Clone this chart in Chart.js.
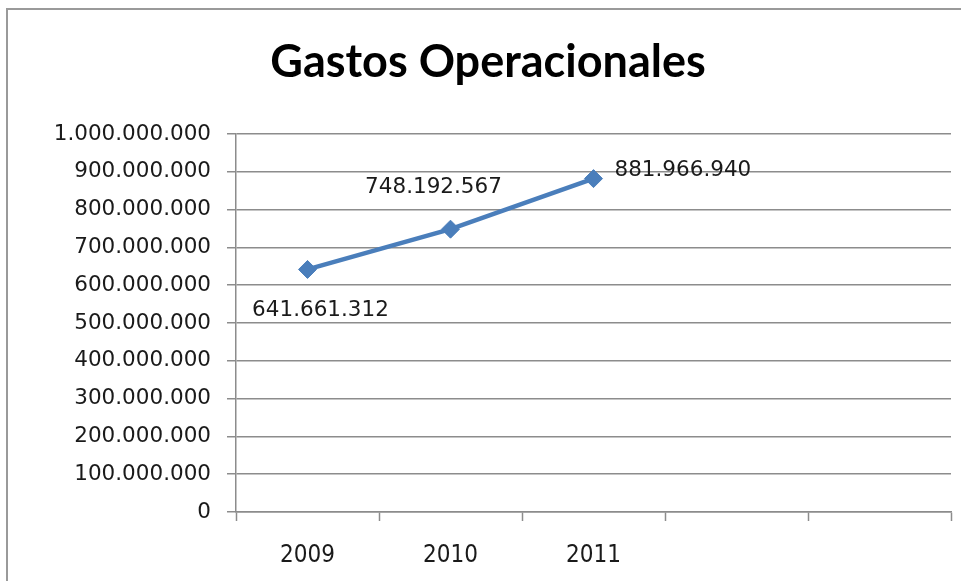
<!DOCTYPE html>
<html>
<head>
<meta charset="utf-8">
<script src="https://cdn.jsdelivr.net/npm/chart.js@4"></script>
<style>
  body { margin: 0; background: #fff; }
  #wrap { width: 961px; height: 581px; }
</style>
</head>
<body>
<div id="wrap"><canvas id="myChart" width="961" height="581"></canvas></div>
<script>
const years = ['2009', '2010', '2011', '', ''];
const gastos = [641661312, 748192567, 881966940];
const yTicks = [0, 100000000, 200000000, 300000000, 400000000, 500000000,
    600000000, 700000000, 800000000, 900000000, 1000000000];

// where each value label sits next to its point
const labelPlace = [
    { dx: 13, dy: 41, align: 'center' },
    { dx: -17, dy: -42, align: 'center' },
    { dx: 21, dy: -8, align: 'left' }
];

function puntos(n) {
    return String(n).replace(/\B(?=(\d{3})+(?!\d))/g, '.');
}

const frame = {
    id: 'frame',
    beforeDraw(chart) {
        const ctx = chart.ctx;
        ctx.save();
        ctx.strokeStyle = '#9a9a9a';
        ctx.lineWidth = 2;
        ctx.beginPath();
        ctx.moveTo(7, 581);
        ctx.lineTo(7, 9);
        ctx.lineTo(961, 9);
        ctx.stroke();
        ctx.restore();
    }
};

const valueLabels = {
    id: 'valueLabels',
    afterDatasetsDraw(chart) {
        const ctx = chart.ctx;
        const meta = chart.getDatasetMeta(0);
        ctx.save();
        ctx.font = '21.5px "DejaVu Sans"';
        ctx.fillStyle = '#1a1a1a';
        ctx.textBaseline = 'middle';
        meta.data.forEach((pt, i) => {
            const p = labelPlace[i];
            ctx.textAlign = p.align;
            ctx.fillText(puntos(gastos[i]), pt.x + p.dx, pt.y + p.dy);
        });
        ctx.restore();
    }
};

const data = {
    labels: years,
    datasets: [
        {
            label: 'Gastos Operacionales',
            data: gastos,
            borderColor: '#4a7ebb',
            backgroundColor: '#4a7ebb',
            borderWidth: 4.5,
            pointStyle: 'rectRot',
            pointRadius: 9,
            pointHoverRadius: 9,
            pointBackgroundColor: '#4a7ebb',
            pointBorderColor: '#4a7ebb',
            pointBorderWidth: 1,
            tension: 0
        }
    ]
};

const config = {
    type: 'line',
    data: data,
    plugins: [frame, valueLabels],
    options: {
        responsive: false,
        animation: false,
        layout: {
            padding: { left: 20, right: 5, top: 0, bottom: 0 }
        },
        plugins: {
            legend: { display: false },
            tooltip: { enabled: false },
            title: {
                display: true,
                text: 'Gastos Operacionales',
                color: '#000',
                font: { family: 'Lato', size: 45, weight: 'bold', lineHeight: 1.2 },
                padding: { top: 35, bottom: 45 }
            }
        },
        scales: {
            x: {
                offset: true,
                grid: {
                    offset: true,
                    drawOnChartArea: false,
                    drawTicks: true,
                    tickLength: 9,
                    tickColor: '#8c8c8c',
                    tickWidth: 1.5
                },
                border: { display: true, color: '#8c8c8c', width: 1.5 },
                ticks: {
                    color: '#1a1a1a',
                    font: { family: '"Liberation Sans Narrow", "DejaVu Sans Condensed", Lato', size: 24 },
                    padding: 20,
                    maxRotation: 0
                },
                afterFit(scale) { scale.height = 69; }
            },
            y: {
                min: 0,
                max: 1000000000,
                afterBuildTicks(scale) {
                    scale.ticks = yTicks.map(v => ({ value: v }));
                },
                grid: {
                    color: '#8c8c8c',
                    lineWidth: 1.5,
                    drawTicks: true,
                    tickLength: 9
                },
                border: { display: true, color: '#8c8c8c', width: 1.5 },
                ticks: {
                    color: '#1a1a1a',
                    font: { family: 'DejaVu Sans', size: 21.5 },
                    padding: 16,
                    callback: v => puntos(v)
                },
                afterFit(scale) { scale.width = 216; }
            }
        }
    }
};

const myChart = new Chart(document.getElementById('myChart'), config);
</script>
</body>
</html>
